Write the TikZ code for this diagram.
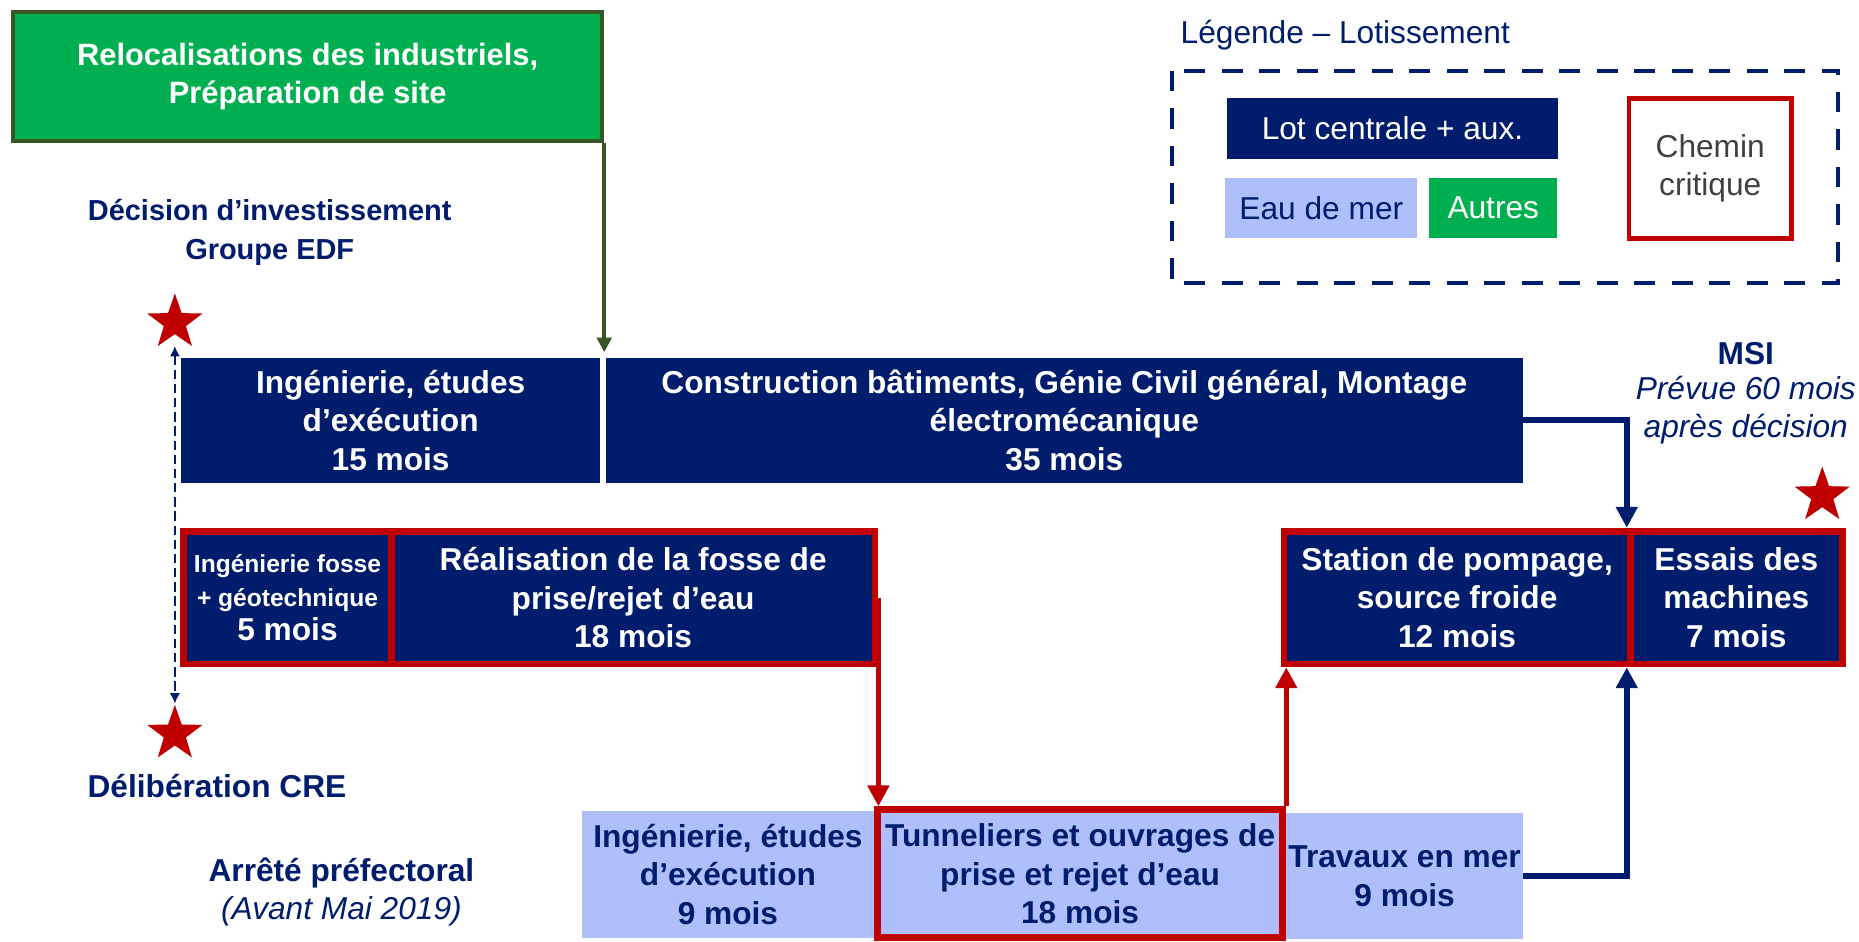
\documentclass[tikz,border=0pt]{standalone}
\usepackage{fontspec}
\setmainfont{Liberation Sans}
\usepackage{tikz}
\usetikzlibrary{arrows.meta}
\usetikzlibrary{positioning,shapes.geometric}
\definecolor{navy}{HTML}{001C6C}
\definecolor{seablue}{HTML}{AEBFFB}
\definecolor{critred}{HTML}{C00000}
\definecolor{othergreen}{HTML}{00B050}
\definecolor{darkgreen}{HTML}{375623}
\definecolor{greytext}{HTML}{404040}

\begin{document}
\begin{tikzpicture}[
	x=0.2mm, y=-0.2mm,
	every node/.style={align=center, inner sep=0pt, font=\fontsize{15.2}{18.5}\selectfont},
	Span/.style 2 args={minimum width=#1*0.2mm, minimum height=#2*0.2mm},
	NavyBox/.style={fill=navy, text=white, font=\fontsize{15.2}{18.5}\selectfont\bfseries},
	SeaBox/.style={fill=seablue, text=navy, font=\fontsize{15.2}{18.5}\selectfont\bfseries},
	CritPath/.style={draw=critred, line width=3.3pt},
	NavyLabel/.style={text=navy, font=\fontsize{15.2}{18.5}\selectfont\bfseries},
	NavyNote/.style={text=navy, font=\fontsize{15.2}{18.5}\selectfont\itshape},
	MyStars/.style={star, star points=5, star point ratio=2.5, fill=critred, minimum size=9.8mm},
	NavyLinks/.style={draw=navy, line width=2.8pt, -{Triangle[length=10pt, width=10pt]}},
	RedLinks/.style={draw=critred, line width=2.6pt, -{Triangle[length=10pt, width=10pt]}},
	DashLink/.style={draw=navy, line width=0.9pt, dash pattern=on 4.5pt off 2.3pt, {Latex[length=5pt, width=5pt]}-{Latex[length=5pt, width=5pt]}},
	LegendFrame/.style={draw=navy, line width=1.9pt, dash pattern=on 10pt off 8pt}
	]
	\useasboundingbox (0,0) rectangle (1568,794.5);

	% relocalisations
	\node[Span={497}{109}, fill=othergreen, draw=darkgreen, line width=1.9pt, text=white,
		font=\fontsize{14.8}{18.5}\selectfont\bfseries] (Reloc) at (259.5,64.5) {Relocalisations des industriels,\\Préparation de site};

	% legend
	\node[text=navy, anchor=west] (LegTitle) at (995.5,29.5) {Légende – Lotissement};
	\draw[LegendFrame] (988.5,59.5) rectangle (1550.5,239);
	\node[Span={280}{51}, fill=navy, text=white] (LotCentral) at (1174.5,108.5) {Lot centrale + aux.};
	\node[Span={162}{51}, fill=seablue, text=navy] (EauMer) at (1114.5,175.5) {Eau de mer};
	\node[Span={108}{51}, fill=othergreen, text=white] (Autres) at (1259.5,175.5) {Autres};
	\node[Span={137}{118}, draw=critred, line width=2.3pt, text=greytext] (Chemin) at (1442.5,142) {Chemin\\critique};

	% milestones
	\node[NavyLabel, font=\fontsize{13.9}{18.5}\selectfont\bfseries] (Decision) at (227.5,196) {Décision d’investissement\\Groupe EDF};
	\node[MyStars] (StarDecision) at (147.5,272) {};
	\node[MyStars] (StarCRE) at (147.5,619) {};
	\node[NavyLabel] (CRE) at (183,663) {Délibération CRE};
	\node[NavyLabel] (Arrete) at (288,736) {Arrêté préfectoral};
	\node[NavyNote] (AvantMai) at (288,769) {(Avant Mai 2019)};
	\node[NavyLabel] (MSI) at (1472.5,298) {MSI};
	\node[NavyNote] (Prevue) at (1472.5,346) {Prévue 60 mois\\après décision};
	\node[MyStars] (StarMSI) at (1537,418) {};
	\draw[DashLink, shorten <=5.5pt] (StarDecision) -- (StarCRE);

	% first row
	\node[NavyBox, Span={353}{105}] (IngA) at (329.5,354.5) {Ingénierie, études\\d’exécution\\15 mois};
	\node[NavyBox, Span={773.5}{105}] (ConstB) at (897.75,354.5) {Construction bâtiments, Génie Civil général, Montage\\électromécanique\\35 mois};

	% second row
	\node[NavyBox, CritPath, Span={175}{112}, font=\fontsize{15.2}{16.4}\selectfont\bfseries] (Fosse) at (242.5,504)
		{\fontsize{11.8}{16.4}\selectfont Ingénierie fosse\\\fontsize{11.8}{16.4}\selectfont + géotechnique\\5 mois};
	\node[NavyBox, CritPath, Span={408}{112}] (Real) at (534,504) {Réalisation de la fosse de\\prise/rejet d’eau\\18 mois};
	\node[NavyBox, CritPath, Span={292}{112}] (Station) at (1229,504) {Station de pompage,\\source froide\\12 mois};
	\node[NavyBox, CritPath, Span={179}{112}] (Essais) at (1464.5,504) {Essais des\\machines\\7 mois};

	% third row
	\node[SeaBox, Span={246}{107}] (IngB) at (614,737.5) {Ingénierie, études\\d’exécution\\9 mois};
	\node[SeaBox, CritPath, Span={342}{108}] (Tunnel) at (911,737) {Tunneliers et ouvrages de\\prise et rejet d’eau\\18 mois};
	\node[SeaBox, Span={199.5}{106}] (Travaux) at (1184.75,739) {Travaux en mer\\9 mois};

	% links
	\draw[draw=darkgreen, line width=1.7pt, -{Triangle[length=7pt, width=7pt]}] (Reloc.south east) -- (Reloc.south east |- 0,297);
	\draw[NavyLinks] (ConstB.east) -| (Essais.north west);
	\draw[NavyLinks] (Travaux.east) -| (Essais.south west);
	\draw[RedLinks] (Real.east) -- (Real.east |- Tunnel.north);
	\draw[RedLinks] (Tunnel.north east) -- (Tunnel.north east |- Station.south);
\end{tikzpicture}
\end{document}
